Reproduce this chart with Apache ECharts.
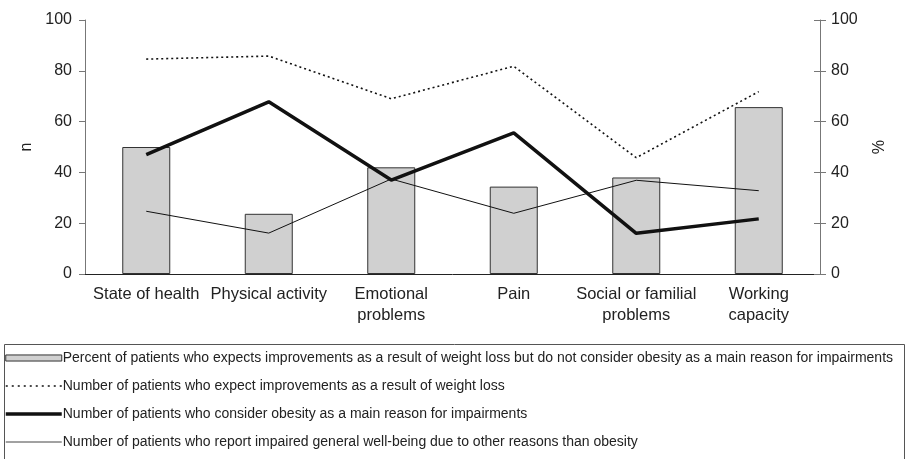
<!DOCTYPE html>
<html>
<head>
<meta charset="utf-8">
<script src="https://cdn.jsdelivr.net/npm/echarts@6/dist/echarts.min.js"></script>
<style>
  html, body { margin: 0; padding: 0; background: #fff; }
  #main { width: 910px; height: 459px; }
</style>
</head>
<body>
<div id="main"></div>
<script>
// categories on the x axis
var categories = ['State of health', 'Physical activity', 'Emotional\nproblems', 'Pain', 'Social or familial\nproblems', 'Working\ncapacity'];

// bars, right axis (%)
var percentNoObesity = [50, 23.7, 42, 34.4, 38, 65.7];
// lines, left axis (n)
var expectImprove = [84.6, 85.8, 69, 81.8, 45.8, 71.8];
var obesityMainReason = [47, 67.8, 37, 55.6, 16, 21.7];
var otherReasons = [24.7, 16.1, 37.4, 23.9, 36.9, 32.8];

var yTicks = [0, 20, 40, 60, 80, 100];

var names = [
  'Percent of patients who expects improvements as a result of weight loss but do not consider obesity as a main reason for impairments',
  'Number of patients who expect improvements as a result of weight loss',
  'Number of patients who consider obesity as a main reason for impairments',
  'Number of patients who report impaired general well-being due to other reasons than obesity'
];

var font = 'Liberation Sans, Arial, Helvetica, sans-serif';
var txt = '#222';
var noDot = { opacity: 0 };

var myChart = echarts.init(document.getElementById('main'));

var option = {
  backgroundColor: '#fff',
  animation: false,
  textStyle: { fontFamily: font, color: txt },
  grid: { left: 85, right: 90, top: 20, bottom: 185 },
  xAxis: {
    type: 'category',
    data: categories,
    axisLine: { lineStyle: { color: '#222', width: 1 } },
    axisTick: { length: 5, lineStyle: { color: '#222' } },
    axisLabel: { interval: 0, fontSize: 16.5, color: txt, margin: 10, lineHeight: 21, fontFamily: font }
  },
  yAxis: [
    {
      type: 'value', min: yTicks[0], max: yTicks[yTicks.length - 1], interval: 20,
      name: 'n', nameLocation: 'middle', nameGap: 47, nameRotate: 90,
      nameTextStyle: { fontSize: 16, color: txt, fontFamily: font },
      axisLine: { show: true, lineStyle: { color: '#777' } },
      axisTick: { show: true, length: 6, lineStyle: { color: '#777' } },
      axisLabel: { fontSize: 16, color: txt, margin: 13, fontFamily: font },
      splitLine: { show: false }
    },
    {
      type: 'value', position: 'right', min: yTicks[0], max: yTicks[yTicks.length - 1], interval: 20,
      name: '%', nameLocation: 'middle', nameGap: 43, nameRotate: -90,
      nameTextStyle: { fontSize: 16, color: txt, fontFamily: font },
      axisLine: { show: true, lineStyle: { color: '#777' } },
      axisTick: { show: true, length: 6, lineStyle: { color: '#777' } },
      axisLabel: { fontSize: 16, color: txt, margin: 11, fontFamily: font },
      splitLine: { show: false }
    },
    {
      // inner half of the right-hand ticks
      type: 'value', position: 'right', min: yTicks[0], max: yTicks[yTicks.length - 1], interval: 20,
      axisLine: { show: false },
      axisTick: { show: true, inside: true, length: 6, lineStyle: { color: '#777' } },
      axisLabel: { show: false },
      splitLine: { show: false }
    }
  ],
  legend: {
    orient: 'vertical',
    left: 4,
    top: 351,
    padding: 0,
    height: 110,
    itemWidth: 56,
    itemHeight: 12,
    itemGap: 14,
    textStyle: { fontSize: 14, color: txt, fontFamily: font, padding: [0, 0, 0, -4] },
    data: [
      { name: names[0], icon: 'path://M0,0h46v5h-46z', itemStyle: { color: '#d0d0d0', borderColor: '#333', borderWidth: 1 } },
      { name: names[1], itemStyle: noDot, lineStyle: { color: '#111', width: 1.6, type: [2, 4] } },
      { name: names[2], itemStyle: noDot, lineStyle: { color: '#111', width: 3.5 } },
      { name: names[3], itemStyle: noDot, lineStyle: { color: '#444', width: 1 } }
    ]
  },
  graphic: [
    {
      type: 'rect',
      shape: { x: 4.5, y: 344.5, width: 900, height: 140 },
      style: { fill: 'none', stroke: '#555', lineWidth: 1 },
      silent: true
    }
  ],
  series: [
    {
      name: names[0],
      type: 'bar',
      yAxisIndex: 1,
      barWidth: 48,
      data: percentNoObesity,
      itemStyle: { color: '#d0d0d0', borderColor: '#333', borderWidth: 1 }
    },
    {
      name: names[1],
      type: 'line',
      data: expectImprove,
      symbol: 'none',
      lineStyle: { color: '#111', width: 1.6, type: [2, 3] },
      itemStyle: { color: '#111' },
      z: 3
    },
    {
      name: names[2],
      type: 'line',
      data: obesityMainReason,
      symbol: 'none',
      lineStyle: { color: '#111', width: 3.5 },
      itemStyle: { color: '#111' },
      z: 4
    },
    {
      name: names[3],
      type: 'line',
      data: otherReasons,
      symbol: 'none',
      lineStyle: { color: '#111', width: 1 },
      itemStyle: { color: '#111' },
      z: 3
    }
  ]
};

myChart.setOption(option);
</script>
</body>
</html>
